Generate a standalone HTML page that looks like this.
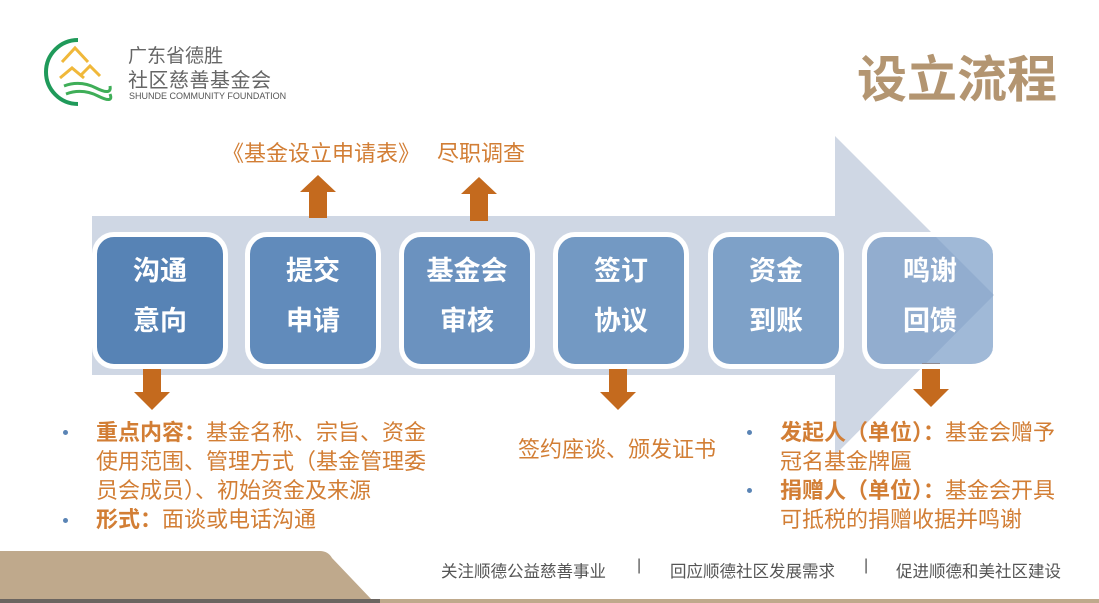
<!DOCTYPE html>
<html><head><meta charset="utf-8"><style>
body{margin:0;width:1099px;height:603px;overflow:hidden;background:#fff;position:relative;font-family:"Liberation Sans","Noto Sans CJK SC",sans-serif}
.a{position:absolute;white-space:nowrap}
.box{position:absolute;width:126px;height:118px;border:5px solid #fff;border-radius:22px;color:#fff;font-weight:bold;font-size:27px;text-align:center;line-height:50px;padding-top:9px;box-sizing:content-box}
.o{color:#d27e35;font-size:22px}
.b{font-weight:bold}
.dot{position:absolute;width:5px;height:5px;border-radius:50%;background:#5a84b5}
</style></head><body>
<svg width="1099" height="603" style="position:absolute;left:0;top:0">
<polygon points="92,216 835,216 835,136 994,295 835,455 835,375 92,375" fill="#cfd7e4"/>
<path d="M78,40 A32,32 0 1 0 78,104" fill="none" stroke="#1f9a5a" stroke-width="4"/>
<path d="M62,62 L75,48 L88,62 M60,78 L72,68 L84,78 M80,76 L90,66 L100,76" fill="none" stroke="#f0b83a" stroke-width="3"/>
<path d="M64,86 Q80,80 96,88 T110,86 M66,94 Q82,88 98,96 T110,94" fill="none" stroke="#3fae58" stroke-width="3"/>
<polygon points="309,218 327,218 327,192 336,192 318,175 300,192 309,192" fill="#c46a1e"/>
<polygon points="470,221 488,221 488,194 497,194 479,177 461,194 470,194" fill="#c46a1e"/>
<polygon points="143,366 161,366 161,392 170,392 152,410 134,392 143,392" fill="#c46a1e"/>
<polygon points="609,366 627,366 627,392 636,392 618,410 600,392 609,392" fill="#c46a1e"/>
<polygon points="922,363 940,363 940,389 949,389 931,407 913,389 922,389" fill="#c46a1e"/>
<path d="M0,551 L320,551 Q328,551 332,558 L372,600 L0,600 Z" fill="#bfa98c"/>
<rect x="0" y="599" width="380" height="4" fill="#6b6560"/>
<rect x="380" y="599" width="719" height="4" fill="#bfa98c"/>
</svg>
<div class="a" style="left:128px;top:41px;font-size:19px;color:#666;letter-spacing:0px">广东省德胜</div>
<div class="a" style="left:128px;top:64px;font-size:20px;color:#666;letter-spacing:0.5px">社区慈善基金会</div>
<div class="a" style="left:129px;top:91px;font-size:9px;color:#555">SHUNDE COMMUNITY FOUNDATION</div>
<div class="a b" style="left:857px;top:40px;font-size:50px;color:#b39571">设立流程</div>

<div class="box" style="left:92px;top:232px;background:#5783b5">沟通<br>意向</div>
<div class="box" style="left:245px;top:232px;background:#618bbb">提交<br>申请</div>
<div class="box" style="left:399px;top:232px;background:#6b92bf">基金会<br>审核</div>
<div class="box" style="left:553px;top:232px;background:#7399c3">签订<br>协议</div>
<div class="box" style="left:708px;top:232px;background:#7ea1c8">资金<br>到账</div>
<div class="box" style="left:862px;top:232px;background:rgba(120,155,198,0.7);border-right:0">鸣谢<br>回馈</div>

<div class="a o" style="left:222px;top:136px">《基金设立申请表》</div>
<div class="a o" style="left:437px;top:136px">尽职调查</div>

<div class="dot" style="left:63px;top:430px"></div>
<div class="dot" style="left:63px;top:518px"></div>
<div class="a o" style="left:96px;top:418px;line-height:29px"><span class="b">重点内容：</span>基金名称、宗旨、资金<br>使用范围、管理方式（基金管理委<br>员会成员）、初始资金及来源<br><span class="b">形式：</span>面谈或电话沟通</div>
<div class="a o" style="left:518px;top:432px">签约座谈、颁发证书</div>
<div class="dot" style="left:747px;top:430px"></div>
<div class="dot" style="left:747px;top:488px"></div>
<div class="a o" style="left:780px;top:418px;line-height:29px"><span class="b">发起人（单位）：</span>基金会赠予<br>冠名基金牌匾<br><span class="b">捐赠人（单位）：</span>基金会开具<br>可抵税的捐赠收据并鸣谢</div>

<div class="a" style="left:441px;top:558px;font-size:16.5px;color:#555">关注顺德公益慈善事业</div>
<div class="a" style="left:637px;top:557px;font-size:16px;color:#555">|</div>
<div class="a" style="left:670px;top:558px;font-size:16.5px;color:#555">回应顺德社区发展需求</div>
<div class="a" style="left:864px;top:557px;font-size:16px;color:#555">|</div>
<div class="a" style="left:896px;top:558px;font-size:16.5px;color:#555">促进顺德和美社区建设</div>
</body></html>
